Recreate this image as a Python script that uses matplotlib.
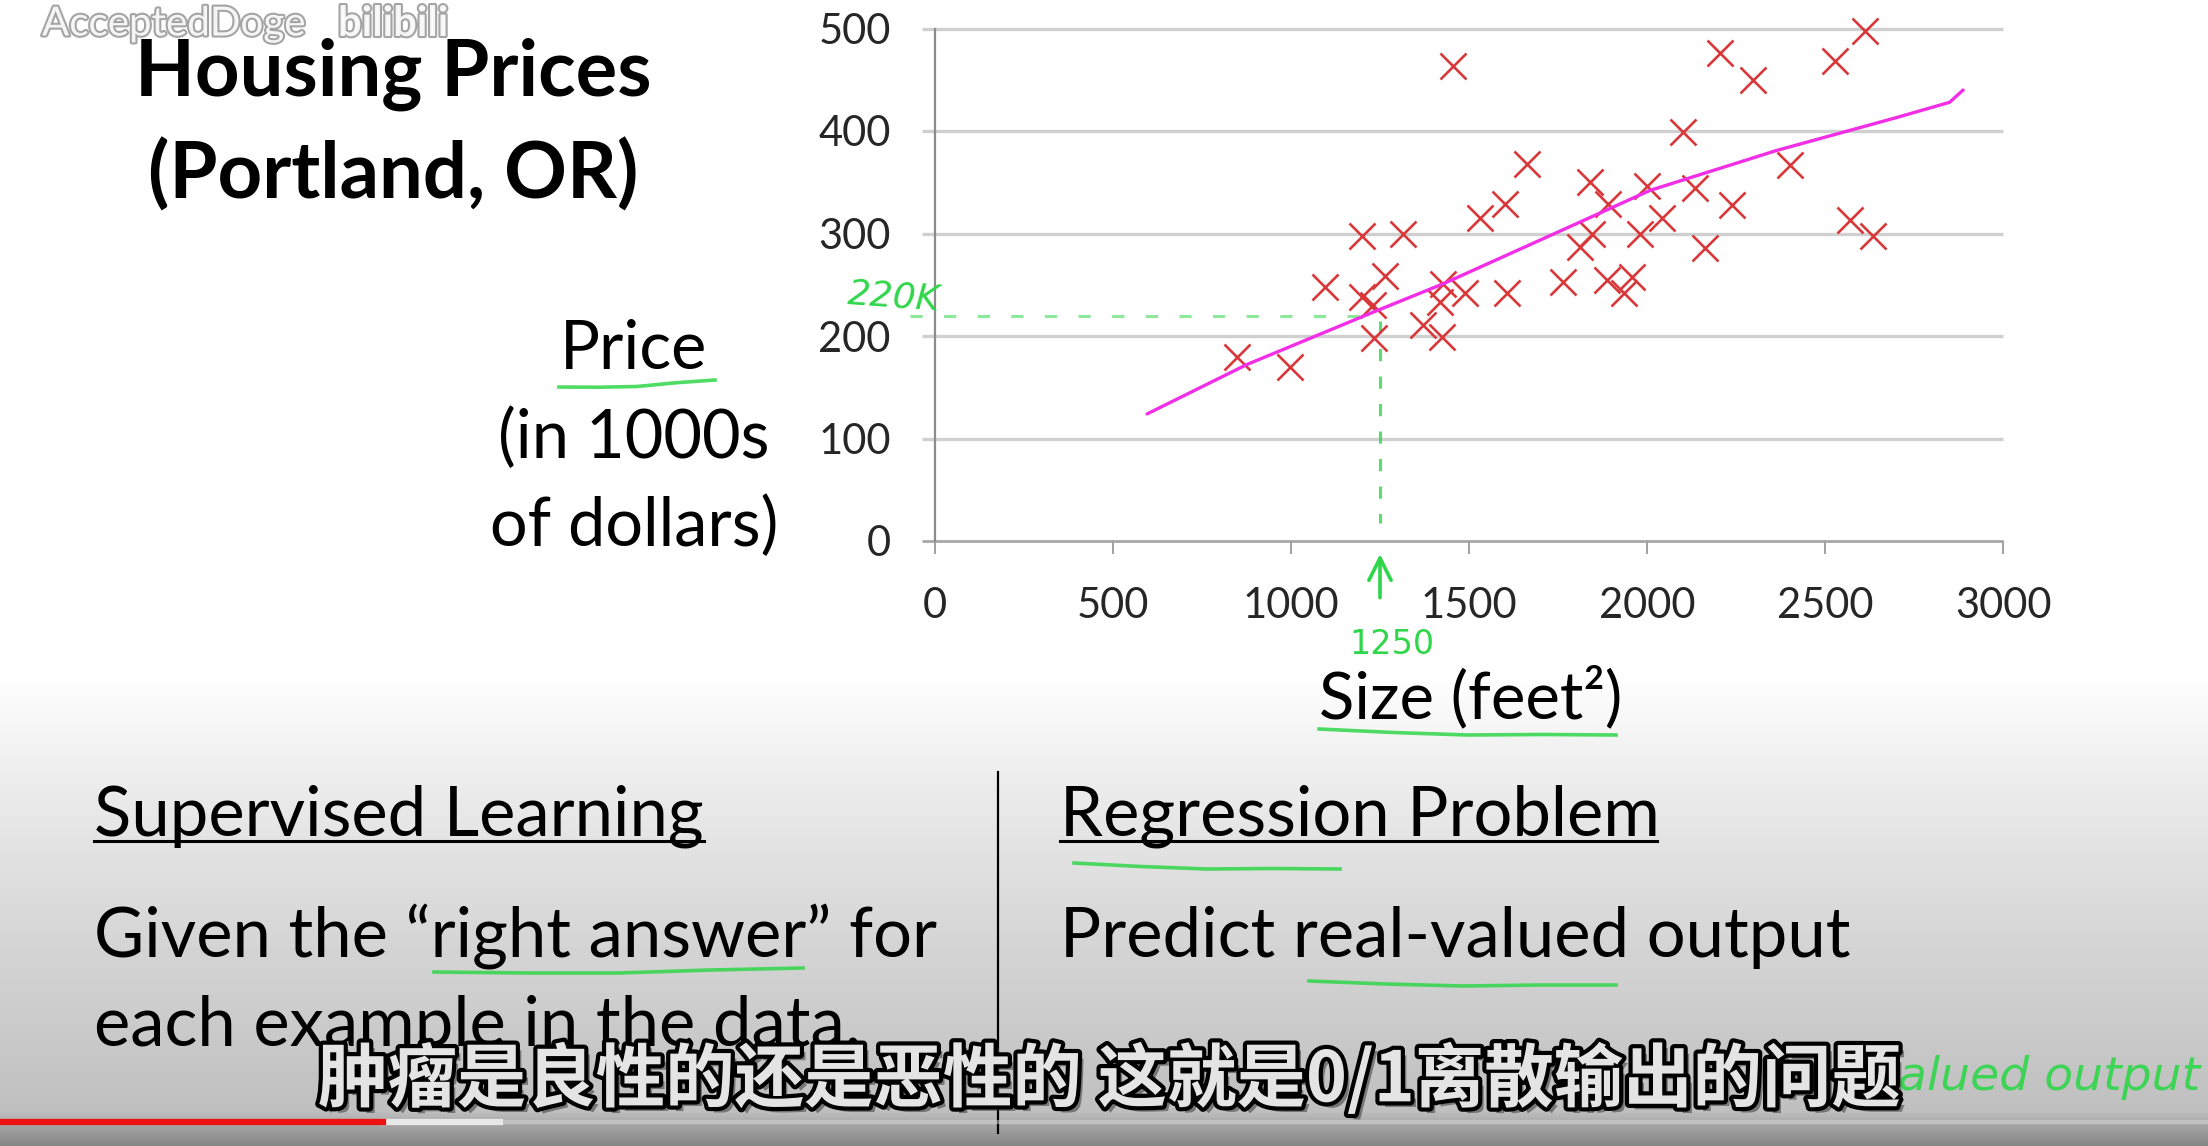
import numpy as np
import matplotlib
matplotlib.use('Agg')
import matplotlib.pyplot as plt
import matplotlib.patheffects as pe

plt.rcParams['font.family'] = ['Lato', 'DejaVu Sans']

# house sizes (feet^2) and prices (1000s of dollars)
size_sqft = [847, 997, 1095, 1199, 1315, 1199, 1264, 1231, 1233, 1531, 1601, 1662,
             1372, 1423, 1418, 1428, 1489, 1606, 1765, 1812, 1845, 1840, 1891, 1887,
             1934, 1957, 1980, 2612, 2205, 2299, 2528, 2102, 2402, 2135, 1999, 2041,
             2238, 2163, 2570, 2636, 1455]
price_k = [180, 170, 248, 298, 300, 238, 259, 230, 198, 315, 329, 368,
           211, 199, 233, 251, 242, 242, 253, 287, 300, 350, 329, 255,
           242, 258, 300, 498, 476, 450, 468, 399, 367, 344, 346, 315,
           328, 286, 313, 298, 463]

# hand drawn fit line
fit_x = [596, 875, 1222, 1428, 1728, 1868, 2008, 2364, 2700, 2850, 2888]
fit_y = [124, 172, 222, 251, 298, 320, 342, 381, 413, 428, 440]

x_ticks = [0, 500, 1000, 1500, 2000, 2500, 3000]
y_ticks = [0, 100, 200, 300, 400, 500]

query_size = 1250
query_price = 220

subtitle = '肿瘤是良性的还是恶性的 这就是0/1离散输出的问题'

W, H = 2208, 1146
GREEN = '#2fd64a'


def fx(x):
    return x / W


def fy(y):
    return 1 - y / H


fig = plt.figure(figsize=(W / 100, H / 100), dpi=100)

# background: white slide fading into the grey video overlay
bg = fig.add_axes([0, 0, 1, 1], zorder=-10)
rows = np.arange(H)
shade = np.interp(rows, [0, 670, 790, 950, 1110, 1126, 1146],
                  [1.0, 1.0, 0.92, 0.83, 0.75, 0.64, 0.52])
bg.imshow(np.repeat(shade[:, None], 2, axis=1), cmap='gray', vmin=0, vmax=1,
          aspect='auto', extent=[0, 1, 0, 1], origin='upper')
bg.set_xlim(0, 1)
bg.set_ylim(0, 1)
bg.axis('off')

# main scatter plot
ax = fig.add_axes([fx(935), fy(541), (2003 - 935) / W, (541 - 28.5) / H])
ax.set_facecolor('none')
ax.set_xlim(0, 3000)
ax.set_ylim(0, 500)
for yv in y_ticks[1:]:
    ax.hlines(yv, -36, 3000, color='#d0d0d0', lw=2.4, clip_on=False, zorder=1)
ax.hlines(0, -36, 3000, color='#a8a8a8', lw=2.0, clip_on=False, zorder=1)

for s in ['top', 'right', 'bottom']:
    ax.spines[s].set_visible(False)
ax.spines['left'].set_color('#8c8c8c')
ax.spines['left'].set_linewidth(1.6)
ax.set_xticks(x_ticks)
ax.set_yticks(y_ticks)
ax.tick_params(axis='x', direction='out', length=9, width=1.4, color='#a0a0a0',
               pad=24, labelsize=30, labelcolor='#262626')
ax.tick_params(axis='y', length=0, pad=32, labelsize=30, labelcolor='#262626')

ax.plot(size_sqft, price_k, 'x', color='#d8383a', markersize=19, mew=1.9,
        clip_on=False, zorder=3)
ax.plot(fit_x, fit_y, color='#f22ee6', lw=2.4, zorder=4, solid_capstyle='round')

# green pen annotations
ax.plot([-70, query_size], [query_price, query_price], color=GREEN, lw=2.2,
        ls=(0, (4, 7)), alpha=0.55, clip_on=False, zorder=2)
ax.plot([query_size, query_size], [query_price - 5, 18], color=GREEN, lw=2.2,
        ls=(0, (4, 5)), alpha=0.8, clip_on=False, zorder=2)
ax.annotate('', xy=(query_size, -10), xytext=(query_size, -58),
            arrowprops=dict(arrowstyle='->', color=GREEN, lw=2.6,
                            mutation_scale=40),
            annotation_clip=False)
fig.text(fx(894), fy(297), '220K', color=GREEN, fontsize=26, family='DejaVu Sans',
         style='italic', ha='center', va='center', rotation=-4)
fig.text(fx(1392), fy(645), '1250', color=GREEN, fontsize=24, family='DejaVu Sans',
         ha='center', va='center')

# slide text
fig.text(fx(393), fy(96), 'Housing Prices', fontsize=56, weight='bold',
         ha='center', va='baseline', color='black')
fig.text(fx(393), fy(199), '(Portland, OR)', fontsize=56, weight='bold',
         ha='center', va='baseline', color='black')
fig.text(fx(634), fy(369), 'Price', fontsize=48, ha='center', va='baseline')
fig.text(fx(634), fy(458), '(in 1000s', fontsize=48, ha='center', va='baseline')
fig.text(fx(634), fy(546), 'of dollars)', fontsize=48, ha='center', va='baseline')
fig.text(fx(1471), fy(718), 'Size (feet²)', fontsize=47, ha='center', va='baseline')

fig.text(fx(94), fy(835), 'Supervised Learning', fontsize=49.5, va='baseline')
fig.text(fx(94), fy(957), 'Given the \u201cright answer\u201d for', fontsize=49.5,
         va='baseline')
fig.text(fx(94), fy(1046), 'each example in the data.', fontsize=49.5, va='baseline')
fig.text(fx(1060), fy(835), 'Regression Problem', fontsize=49.5, va='baseline')
fig.text(fx(1060), fy(957), 'Predict real-valued output', fontsize=49.5, va='baseline')

fig.add_artist(plt.Line2D([fx(94), fx(704)], [fy(841), fy(841)], color='black', lw=2.2))
fig.add_artist(plt.Line2D([fx(1060), fx(1657)], [fy(841), fy(841)], color='black', lw=2.2))
fig.add_artist(plt.Line2D([fx(998), fx(998)], [fy(772), fy(1133)], color='black', lw=1.6))

# green underlines
for (x0, y0), (x1, y1) in [((559, 387), (715, 380)), ((1319, 729), (1616, 735)),
                           ((1074, 863), (1340, 869)), ((434, 972), (803, 968)),
                           ((1309, 981), (1616, 985))]:
    xs = np.linspace(x0, x1, 5)
    ys = np.linspace(y0, y1, 5) + np.array([0, 2, 3, 1, 0])
    fig.add_artist(plt.Line2D(fx(xs), fy(ys), color=GREEN, lw=2.6, alpha=0.85))

fig.text(fx(2200), fy(1078), 'valued output', color=GREEN, fontsize=34,
         ha='right', va='center', alpha=0.9, family='DejaVu Sans', style='italic')

# watermark
wm = [pe.withStroke(linewidth=3, foreground='#9a9a9a')]
fig.text(fx(42), fy(24), 'AcceptedDoge', fontsize=29, color='white', va='center',
         path_effects=wm, alpha=0.9)
fig.text(fx(338), fy(24), 'bilibili', fontsize=30, weight='bold', color='white',
         va='center', path_effects=wm, alpha=0.9)

# video progress bar
fig.add_artist(plt.Line2D([0, 1], [fy(1122), fy(1122)], color='#d8d8d8', lw=3, alpha=0.5))
fig.add_artist(plt.Line2D([fx(383), fx(500)], [fy(1122), fy(1122)], color='#e8e8e8', lw=4.5))
fig.add_artist(plt.Line2D([0, fx(383)], [fy(1122), fy(1122)], color='#ee1111', lw=4.5))

# subtitle
fig.text(fx(1110), fy(1080), subtitle, fontsize=50, weight='bold', color='#e4e4e4',
         family=['Noto Sans CJK SC', 'DejaVu Sans'], ha='center', va='center',
         path_effects=[pe.SimplePatchShadow(offset=(4, -4), alpha=0.6),
                       pe.withStroke(linewidth=6, foreground='black')])

fig.savefig('out.png', dpi=100)
